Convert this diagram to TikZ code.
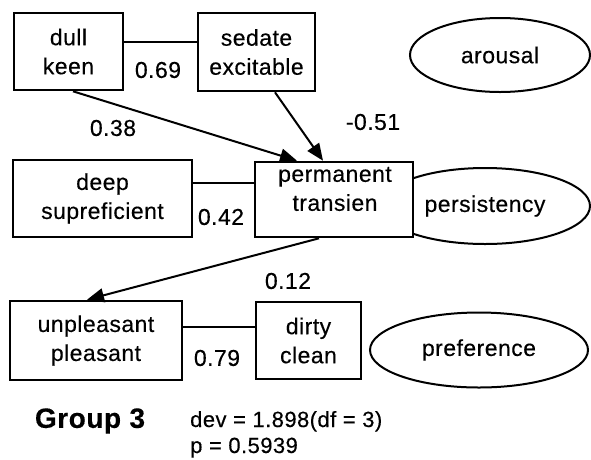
\documentclass[tikz,border=0pt]{standalone}
\usepackage{fontspec}
\setmainfont{Liberation Sans}[LetterSpace=2,FakeBold=0.3]
\usetikzlibrary{arrows.meta,shapes.geometric}
\begin{document}
\begin{tikzpicture}[x=1pt,y=-1pt,
  every node/.style={font=\fontsize{23}{29}\selectfont},
  box/.style={draw, line width=2.6pt, fill=white, inner sep=0pt, align=center},
  oval/.style={draw, ellipse, line width=2pt, fill=white, inner sep=0pt},
  link/.style={line width=2pt},
  path/.style={line width=2pt, -{Triangle[length=17pt,width=14pt]}},
  coef/.style={inner sep=0pt},
  stat/.style={inner sep=0pt, anchor=base west, font=\fontsize{22}{26}\selectfont},
  txt/.style={inner sep=0pt, align=center}]
\useasboundingbox (0,0) rectangle (591,459);
% ellipses
\node[oval, minimum width=180, minimum height=74] (ar) at (500,55) {arousal};
\node[oval, minimum width=210, minimum height=76] (pe) at (485,206) {persistency};
\node[oval, minimum width=218, minimum height=75] (pr) at (479,350) {preference};
% boxes
\node[box, minimum width=109, minimum height=77] (dk) at (68.5,51.5) {dull\\keen};
\node[box, minimum width=117, minimum height=78] (se) at (256.5,52) {sedate\\excitable};
\node[box, minimum width=158, minimum height=75] (pt) at (334,199.5) {};
\node[txt] (ptt) at (335,189) {permanent\\transien};
\node[box, minimum width=179, minimum height=77] (ds) at (102.5,198.5) {deep\\supreficient};
\node[box, minimum width=172, minimum height=79] (up) at (96,340.5) {unpleasant\\pleasant};
\node[box, minimum width=105, minimum height=77] (dc) at (308.5,340.5) {dirty\\clean};
% links
\draw[link] (dk.east |- 0,42) -- (se.west |- 0,42);
\draw[link] (ds.east |- 0,183) -- (pt.west |- 0,183);
\draw[link] (up.east |- 0,327) -- (dc.west |- 0,327);
% paths
\draw[path] ([xshift=4.5pt]dk.south) -- ([xshift=-37pt]pt.north);
\draw[path] ([xshift=18.5pt]se.south) -- ([xshift=-11pt]pt.north);
\draw[path] ([xshift=-15pt]pt.south) -- ([xshift=-9pt]up.north);
% coefficients
\node[coef] (c1) at (158,70) {0.69};
\node[coef] (c2) at (113,128) {0.38};
\node[coef] (c3) at (373,122) {-0.51};
\node[coef] (c4) at (221,217) {0.42};
\node[coef] (c5) at (288,281) {0.12};
\node[coef] (c6) at (217,358) {0.79};
% footer
\node[coef, font=\fontsize{28}{30}\selectfont\bfseries] (grp) at (90,421) {Group 3};
\node[stat] (dev) at (190,427) {dev = 1.898(df = 3)};
\node[stat] (pv) at (190,453) {p = 0.5939};
\end{tikzpicture}
\end{document}
